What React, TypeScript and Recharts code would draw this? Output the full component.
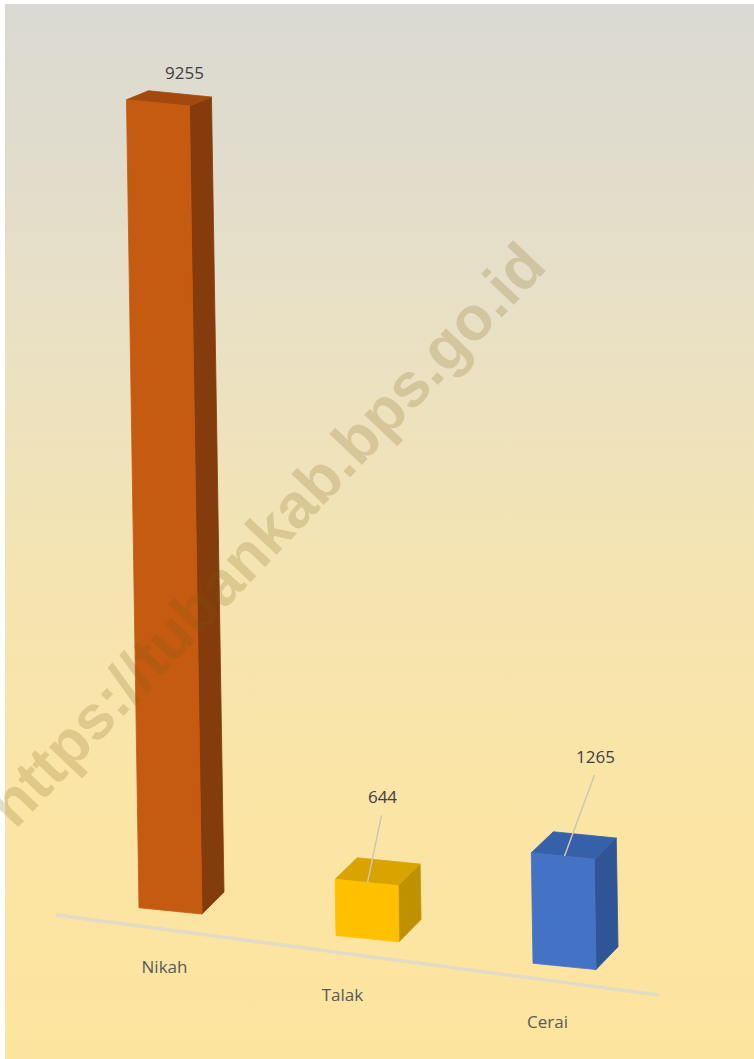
import React from 'react';
import { BarChart, Bar, XAxis, YAxis, ReferenceLine } from 'recharts';

// chart data
const categories = ['Nikah', 'Talak', 'Cerai'];
const values = [9255, 644, 1265];
const yDomain: [number, number] = [0, 10000];

// colours per bar: front, side, top faces
const frontColors = ['#c55a11', '#ffc000', '#4472c4'];
const sideColors = ['#843c0c', '#bf9000', '#2f5597'];
const topColors = ['#a24a0d', '#d9a300', '#3660aa'];

const data = categories.map((name, i) => ({ name, value: values[i] }));

// layout / fake perspective
const W = 754;
const H = 1059;
const MARGIN = { top: 24, right: 91, bottom: 132, left: 72 };
const FLOOR_SLOPE = 0.141; // floor recedes downward to the right
const FACE_SLOPE = 0.1;
const LEAN = 0.0155; // tall bars lean left at the top
const DEPTH_X = 22;
const FONT = '"Open Sans", "Noto Sans", sans-serif';

// manual nudges, like the dragged labels in the original
const valueLabelShift = [
  { dx: 14, dy: -30, leader: false },
  { dx: 15, dy: -85, leader: true },
  { dx: 31, dy: -99, leader: true },
];
const tickNudge = [-6, -25, -17];

const floorShift = (cx: number) => (cx - MARGIN.left) * FLOOR_SLOPE;
const depthY = (y: number) => -(9 + Math.max(0, y - 100) * 0.016);
const pts = (list: number[][]) => list.map((p) => p.join(',')).join(' ');

function Box3D(props: any) {
  const { x, y, width, height, index, value } = props;
  const cx = x + width / 2;
  const shift = floorShift(cx);
  const half = width / 2;
  const top = y + shift;
  const bottom = y + height + shift;
  const lean = height * LEAN;

  const bl = [cx - half, bottom - half * FACE_SLOPE];
  const br = [cx + half, bottom + half * FACE_SLOPE];
  const tl = [cx - half - lean, top - half * FACE_SLOPE];
  const tr = [cx + half - lean, top + half * FACE_SLOPE];
  const dT = depthY(top);
  const dB = depthY(bottom);
  const tlb = [tl[0] + DEPTH_X, tl[1] + dT];
  const trb = [tr[0] + DEPTH_X, tr[1] + dT];
  const brb = [br[0] + DEPTH_X, br[1] + dB];

  const lab = valueLabelShift[index];
  const lx = cx + lab.dx;
  const ly = top + lab.dy;
  const v = Array.isArray(value) ? value[1] - value[0] : value;

  return (
    <g>
      <polygon points={pts([tr, trb, brb, br])} fill={sideColors[index]} stroke={sideColors[index]} strokeWidth={0.8} />
      <polygon points={pts([tl, tr, trb, tlb])} fill={topColors[index]} stroke={topColors[index]} strokeWidth={0.8} />
      <polygon points={pts([tl, tr, br, bl])} fill={frontColors[index]} stroke={frontColors[index]} strokeWidth={0.8} />
      {lab.leader && (
        <line x1={lx - 1} y1={ly + 18} x2={cx} y2={top} stroke="#cfc6b0" strokeWidth={1.5} />
      )}
      <text x={lx} y={ly + 6} textAnchor="middle" fontFamily={FONT} fontSize={17} fill="#404040">
        {v}
      </text>
    </g>
  );
}

function CategoryTick(props: any) {
  const { x, y, payload, index } = props;
  const i = typeof index === 'number' ? index : categories.indexOf(payload.value);
  return (
    <text
      x={x + tickNudge[i]}
      y={y + floorShift(x) + 62}
      textAnchor="middle"
      fontFamily={FONT}
      fontSize={17}
      fill="#595959"
    >
      {payload.value}
    </text>
  );
}

function FloorLine(props: any) {
  const { x1, y1, x2 } = props;
  const sx = x1 - 15;
  const ex = x2 - 6;
  const yAt = (xx: number) => y1 + 20 + (xx - x1) * 0.133;
  return (
    <line x1={sx} y1={yAt(sx)} x2={ex} y2={yAt(ex)} stroke="#e4dbc6" strokeWidth={3.5} strokeLinecap="round" />
  );
}

export default function App() {
  return (
    <div style={{ position: 'fixed', left: 0, top: 0, width: W, height: H, background: '#ffffff', overflow: 'hidden' }}>
      <div
        style={{
          position: 'absolute',
          left: 5,
          top: 4,
          right: 0,
          bottom: 0,
          background: 'linear-gradient(to bottom, #dad9d3 0%, #e8e0c6 28%, #f4e4b3 52%, #fbe5a6 75%, #fde49e 100%)',
        }}
      />
      <div style={{ position: 'absolute', left: 0, top: 0 }}>
        <BarChart width={W} height={H} data={data} margin={MARGIN} barCategoryGap={0}>
          <YAxis hide domain={yDomain} type="number" />
          <XAxis
            dataKey="name"
            axisLine={false}
            tickLine={false}
            tickSize={0}
            tickMargin={0}
            height={30}
            interval={0}
            tick={<CategoryTick />}
          />
          <ReferenceLine y={0} shape={<FloorLine />} />
          <Bar dataKey="value" barSize={63} shape={<Box3D />} isAnimationActive={false} />
        </BarChart>
      </div>
      <svg width={W} height={H} style={{ position: 'absolute', left: 0, top: 0, pointerEvents: 'none' }}>
        <text
          x={266}
          y={556}
          textAnchor="middle"
          transform="rotate(-46.5 266 534)"
          fontFamily='"Liberation Sans", Arial, sans-serif'
          fontWeight="bold"
          fontSize={62}
          fill="#7a5c10"
          fillOpacity={0.2}
        >
          https://tubankab.bps.go.id
        </text>
      </svg>
    </div>
  );
}
